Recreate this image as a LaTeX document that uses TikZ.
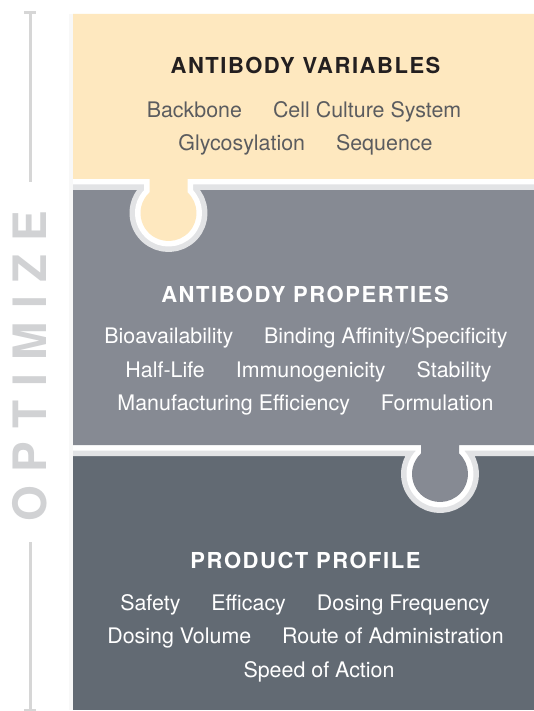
\documentclass[tikz,border=0pt]{standalone}
\usepackage{fontspec}
\setmainfont{TeX Gyre Heros}
\newfontfamily\titlefam[LetterSpace=7]{TeX Gyre Heros}
\newfontfamily\optfam[LetterSpace=29]{TeX Gyre Heros}
\newcommand\titlefont{\titlefam\bfseries\fontsize{22}{26}\selectfont}
\newcommand\itemfont{\fontsize{21.4}{25}\selectfont}
\newcommand\optfont{\optfam\bfseries\fontsize{46}{50}\selectfont}
\newcommand\gap{\hspace{31pt}}
\definecolor{pieceyellow}{HTML}{FEE8BF}
\definecolor{piecemid}{HTML}{868A93}
\definecolor{piecedark}{HTML}{626A73}
\definecolor{bandgray}{HTML}{E2E3E5}
\definecolor{titledark}{HTML}{231F20}
\definecolor{itemdark}{HTML}{5B5C5F}
\definecolor{optgray}{HTML}{D1D2D4}
\definecolor{rulegray}{HTML}{D6D6D6}
\definecolor{edgeshade}{HTML}{F8F8F8}
\newcommand\pieceP{(73,14) -- (534,14) -- (534,179) -- (187.5,179) -- (187.5,192.43) arc[start angle=-47.27, end angle=227.27, radius=28] -- (149.5,179) -- (73,179) -- cycle}
\newcommand\pieceQ{(73,179) -- (534,179) -- (534,445) -- (459,445) -- (459,453.43) arc[start angle=-47.27, end angle=227.27, radius=28] -- (421,445) -- (73,445) -- cycle}
\begin{document}
\begin{tikzpicture}[x=1pt,y=-1pt,
  title/.style={anchor=base, inner sep=0, font=\titlefont},
  item/.style={anchor=base, inner sep=0, font=\itemfont, align=center},
  outerband/.style={draw=bandgray, line width=22pt, line join=round},
  innerband/.style={draw=white, line width=11pt, line join=round},
  rule/.style={draw=rulegray, line width=3pt}]
\useasboundingbox (0,0) rectangle (534,711);
\fill[white] (0,0) rectangle (534,711);
% faint edge shade
\fill[edgeshade] (69,14) rectangle (73,710);
% bottom piece
\fill[piecedark] (73,445) rectangle (534,710);
\begin{scope}
  \clip (73,445) rectangle (534,710);
  \path[outerband] \pieceQ;
  \path[innerband] \pieceQ;
\end{scope}
% middle piece
\fill[piecemid] \pieceQ;
\begin{scope}
  \clip (73,179) rectangle (534,445);
  \path[outerband] \pieceP;
  \path[innerband] \pieceP;
\end{scope}
% top piece
\fill[pieceyellow] \pieceP;
% OPTIMIZE axis
\coordinate (r1a) at (30,13);
\coordinate (r1b) at (30,182);
\coordinate (r2a) at (30,542);
\coordinate (r2b) at (30,710);
\coordinate (t1a) at (24,13);
\coordinate (t1b) at (36,13);
\coordinate (t2a) at (24,710);
\coordinate (t2b) at (36,710);
\draw[rule] (r1a) -- (r1b);
\draw[rule] (r2a) -- (r2b);
\draw[rule] (t1a) -- (t1b);
\draw[rule] (t2a) -- (t2b);
\node[rotate=90, inner sep=0, font=\optfont, text=optgray] (opt) at (30,366) {OPTIMIZE};
% texts top
\node[title, text=titledark] (ttop) at (305.5,73.3) {ANTIBODY VARIABLES};
\node[item, text=itemdark] (a1) at (304,117.7) {Backbone\gap Cell Culture System};
\node[item, text=itemdark] (a2) at (305.5,151) {Glycosylation\gap Sequence};
% texts middle
\node[title, text=white] (tmid) at (305,302) {ANTIBODY PROPERTIES};
\node[item, text=white] (b1) at (306,343) {Bioavailability\gap Binding Affinity/Specificity};
\node[item, text=white] (b2) at (308.5,377) {Half-Life\gap Immunogenicity\gap Stability};
\node[item, text=white] (b3) at (305.5,410) {Manufacturing Efficiency\gap Formulation};
% texts bottom
\node[title, text=white] (tbot) at (305.5,568) {PRODUCT PROFILE};
\node[item, text=white] (c1) at (305,610) {Safety\gap Efficacy\gap Dosing Frequency};
\node[item, text=white] (c2) at (305.5,643) {Dosing Volume\gap Route of Administration};
\node[item, text=white] (c3) at (319,677) {Speed of Action};
\end{tikzpicture}
\end{document}
